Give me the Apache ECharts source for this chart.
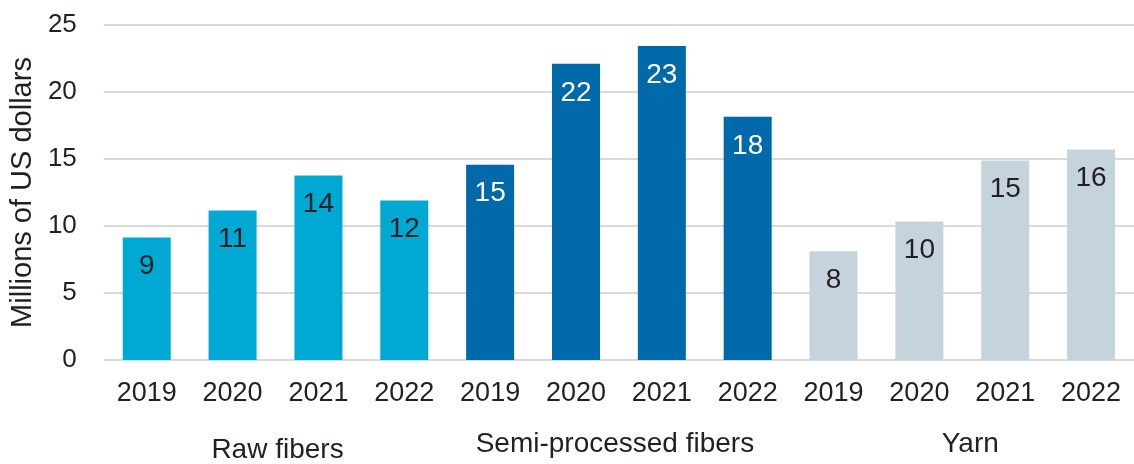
<!DOCTYPE html>
<html>
<head>
<meta charset="utf-8">
<title>Fiber and yarn values by year</title>
<script src="https://cdn.jsdelivr.net/npm/echarts@6/dist/echarts.min.js"></script>
<style>
  html, body { margin: 0; padding: 0; background: #ffffff; }
  #chart { width: 1134px; height: 464px; }
</style>
</head>
<body>
<div id="chart"></div>
<script>
// Years shown under each product group
const years = ['2019', '2020', '2021', '2022'];
// Product groups
const groups = ['Raw fibers', 'Semi-processed fibers', 'Yarn'];
// Values in millions of US dollars, one array per group
const rawFibers = [9.15, 11.16, 13.76, 11.9];
const semiProcessedFibers = [14.58, 22.1, 23.44, 18.15];
const yarn = [8.11, 10.34, 14.88, 15.7];
// Y-axis ticks
const yTicks = [0, 5, 10, 15, 20, 25];

const groupValues = [rawFibers, semiProcessedFibers, yarn];
const groupColors = ['#00A9D3', '#0069AA', '#C5D3DD'];
const groupLabelColors = ['#231f20', '#ffffff', '#231f20'];

const FONT = '"Liberation Sans", Arial, Helvetica, sans-serif';
const TEXT = '#231f20';

const categories = [];
const barData = [];
groupValues.forEach((vals, g) => {
  vals.forEach((v, i) => {
    categories.push(years[i]);
    barData.push({
      value: v,
      itemStyle: { color: groupColors[g] },
      label: { color: groupLabelColors[g] }
    });
  });
});

const chart = echarts.init(document.getElementById('chart'), null, { renderer: 'canvas' });

chart.setOption({
  animation: false,
  backgroundColor: '#ffffff',
  grid: { left: 102.6, top: 25, width: 1039.5, height: 336, containLabel: false },
  xAxis: [
    {
      type: 'category',
      data: categories,
      position: 'bottom',
      axisLine: { show: false },
      axisTick: { show: false },
      splitLine: { show: false },
      axisLabel: { fontFamily: FONT, fontSize: 27, color: TEXT, margin: 20, interval: 0 }
    },
    {
      // group names under each block of four years
      type: 'category',
      data: groups,
      position: 'bottom',
      axisLine: { show: false },
      axisTick: { show: false },
      splitLine: { show: false },
      axisLabel: {
        fontFamily: FONT, fontSize: 28, color: TEXT, margin: 70, interval: 0,
        formatter: (v) => {
          if (v === groups[0]) return '{low|' + v + '}';
          if (v === groups[2]) return '{right|' + v + '}';
          return '{left|' + v + '}';
        },
        rich: {
          low: { fontFamily: FONT, fontSize: 28, color: TEXT, padding: [6, 0, 0, 4] },
          left: { fontFamily: FONT, fontSize: 28, color: TEXT, padding: [0, 8, 0, 0] },
          right: { fontFamily: FONT, fontSize: 28, color: TEXT, padding: [0, 0, 0, 16] }
        }
      }
    }
  ],
  yAxis: {
    type: 'value',
    min: yTicks[0],
    max: yTicks[yTicks.length - 1],
    interval: yTicks[1] - yTicks[0],
    name: 'Millions of US dollars',
    nameLocation: 'middle',
    nameRotate: 90,
    nameGap: 62,
    nameTextStyle: { fontFamily: FONT, fontSize: 29, color: TEXT },
    axisLine: { show: false },
    axisTick: { show: false },
    axisLabel: { fontFamily: FONT, fontSize: 26, color: TEXT, margin: 27 },
    splitLine: { lineStyle: { color: '#d9d9d9', width: 2 } }
  },
  series: [
    {
      type: 'bar',
      xAxisIndex: 0,
      data: barData,
      barWidth: 48,
      label: {
        show: true,
        position: 'insideTop',
        distance: 15,
        fontFamily: FONT,
        fontSize: 28,
        formatter: (p) => String(Math.round(p.value))
      }
    }
  ]
});
</script>
</body>
</html>
